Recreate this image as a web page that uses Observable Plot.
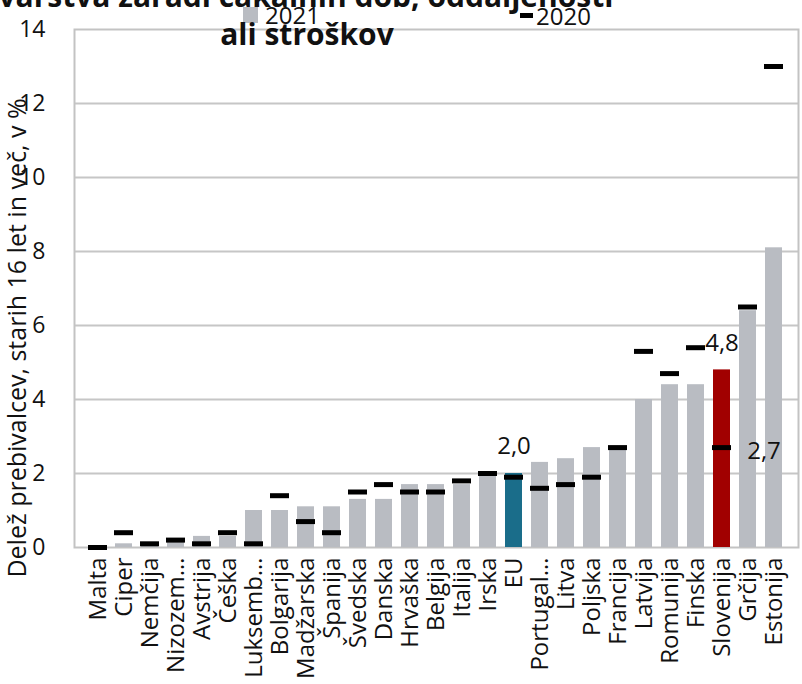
<!DOCTYPE html>
<html>
<head>
<meta charset="utf-8">
<script src="https://cdn.jsdelivr.net/npm/d3@7"></script>
<script src="https://cdn.jsdelivr.net/npm/@observablehq/plot@0.6"></script>
<style>
  html, body { margin: 0; padding: 0; background: #fff; }
  svg { display: block; }
</style>
</head>
<body>
<div id="chart"></div>
<script>
const categories = ["Malta","Ciper","Nemčija","Nizozem…","Avstrija","Češka","Luksemb…","Bolgarija","Madžarska","Španija","Švedska","Danska","Hrvaška","Belgija","Italija","Irska","EU","Portugal…","Litva","Poljska","Francija","Latvija","Romunija","Finska","Slovenija","Grčija","Estonija"];
const values2021 = [0.0,0.1,0.1,0.2,0.3,0.3,1.0,1.0,1.1,1.1,1.3,1.3,1.7,1.7,1.7,2.0,2.0,2.3,2.4,2.7,2.7,4.0,4.4,4.4,4.8,6.4,8.1];
const values2020 = [0.0,0.4,0.1,0.2,0.1,0.4,0.1,1.4,0.7,0.4,1.5,1.7,1.5,1.5,1.8,2.0,1.9,1.6,1.7,1.9,2.7,5.3,4.7,5.4,2.7,6.5,13.0];
const yTicks = [0,2,4,6,8,10,12,14];
const gridTicks = [2,4,6,8,10,12];
const titleLines = ["varstva zaradi čakalnih dob, oddaljenosti", "ali stroškov"];
const legendLabels = ["2021", "2020"];
const yLabel = "Delež prebivalcev, starih 16 let in več, v %";
const highlight = {"EU": "#1a6d8a", "Slovenija": "#a10000"};
const barGray = "#b9bcc2";

const data = categories.map((c, i) => ({cat: c, v21: values2021[i], v20: values2020[i]}));
const euLabel = [{cat: "EU", v: 2.0, t: "2,0"}];
const sloLabel21 = [{cat: "Slovenija", v: 4.8, t: "4,8"}];
const sloLabel20 = [{cat: "Slovenija", v: 2.7, t: "2,7"}];

const font = "Open Sans, Noto Sans, sans-serif";

const chart = Plot.plot({
  width: 802,
  height: 684,
  marginLeft: 74,
  marginRight: 4,
  marginTop: 29,
  marginBottom: 137,
  style: {fontFamily: font, background: "#fff", color: "#111"},
  x: {domain: categories, paddingInner: 0.33, paddingOuter: 0.18, label: null},
  y: {domain: [0, 14], label: null},
  marks: [
    Plot.gridY(gridTicks, {stroke: "#c6c6c6", strokeOpacity: 1, strokeWidth: 2}),
    Plot.frame({stroke: "#c3c3c3", strokeWidth: 2}),
    Plot.barY(data, {x: "cat", y: "v21", fill: d => highlight[d.cat] || barGray}),
    Plot.tickY(data, {x: "cat", y: "v20", stroke: "#000", strokeWidth: 5, insetLeft: -1, insetRight: -1}),
    Plot.text(euLabel, {x: "cat", y: "v", text: "t", dy: -27, fontSize: 24, fill: "#111"}),
    Plot.text(sloLabel21, {x: "cat", y: "v", text: "t", dy: -27, fontSize: 24, fill: "#111"}),
    Plot.text(sloLabel20, {x: "cat", y: "v", text: "t", dx: 42, dy: 4, fontSize: 24, fill: "#111"}),
    Plot.axisY({ticks: yTicks, tickSize: 0, tickPadding: 29, fontSize: 23, label: null}),
    Plot.axisX({tickRotate: -90, tickSize: 0, tickPadding: 10, fontSize: 24, label: null})
  ]
});

document.getElementById("chart").appendChild(chart);

const svg = d3.select(chart);
// y axis title
svg.append("text")
  .attr("transform", "translate(26,338) rotate(-90)")
  .attr("text-anchor", "middle")
  .attr("font-family", font)
  .attr("font-size", 25)
  .attr("fill", "#111")
  .text(yLabel);

// legend
svg.append("rect").attr("x", 243).attr("y", 7).attr("width", 15).attr("height", 16).attr("fill", barGray);
svg.append("text").attr("x", 265).attr("y", 24).attr("text-anchor", "start").attr("font-family", font).attr("font-size", 24).attr("fill", "#111").text(legendLabels[0]);
svg.append("rect").attr("x", 520).attr("y", 13).attr("width", 13).attr("height", 5).attr("fill", "#000");
svg.append("text").attr("x", 536).attr("y", 25).attr("text-anchor", "start").attr("font-family", font).attr("font-size", 24).attr("fill", "#111").text(legendLabels[1]);

// title (clipped at top as in the reference)
svg.append("text").attr("x", 306).attr("y", 7).attr("text-anchor", "middle")
  .attr("font-family", font).attr("font-weight", "bold").attr("font-size", 30).attr("fill", "#111").text(titleLines[0]);
svg.append("text").attr("x", 307).attr("y", 45).attr("text-anchor", "middle")
  .attr("font-family", font).attr("font-weight", "bold").attr("font-size", 30).attr("fill", "#111").text(titleLines[1]);
</script>
</body>
</html>
